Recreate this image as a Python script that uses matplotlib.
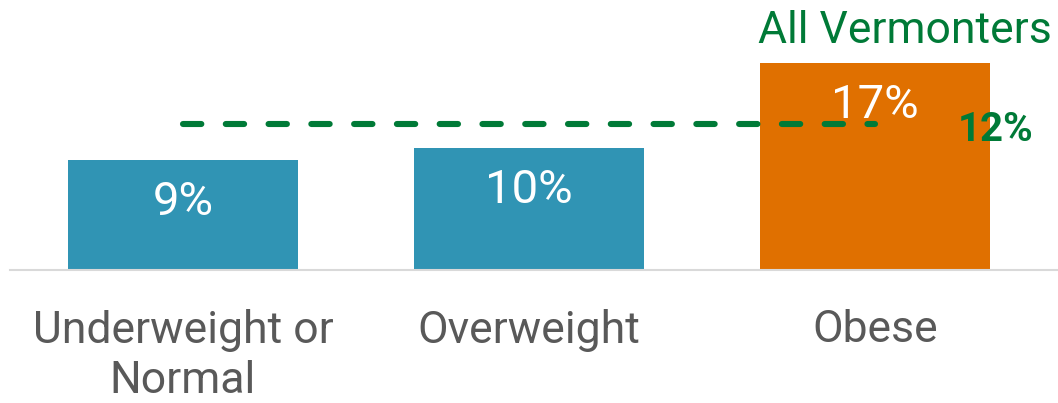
import matplotlib
matplotlib.use('Agg')
import matplotlib.pyplot as plt

# Datos
categorias = ['Underweight or\nNormal', 'Overweight', 'Obese']
valores = [9, 10, 17]
colores = ['#3094B4', '#3094B4', '#E07000']
promedio = 12  # All Vermonters

plt.rcParams['font.family'] = ['Roboto', 'DejaVu Sans']

fig = plt.figure(figsize=(10.58, 4.03), dpi=100)
ax = fig.add_axes([10 / 1058, 133 / 403, 1 - 10 / 1058, 270 / 403])

x = range(len(categorias))
barras = ax.bar(x, valores, width=0.665, color=colores, zorder=2)

# Etiquetas dentro de las barras
for xi, v in zip(x, valores):
    ax.annotate(f'{v}%', (xi, v), xytext=(0, -42), textcoords='offset pixels',
                ha='center', va='center', color='white', fontsize=34, zorder=4)

# Linea punteada del promedio
ax.hlines(promedio, 0, 2.0, colors='#007A37', linestyles=(0, (3.0, 4.0)),
          linewidth=4.4, capstyle='round', zorder=3)
ax.annotate(f'{promedio}%', (2.0, promedio), xytext=(83, -6), textcoords='offset pixels',
            ha='left', va='center', color='#007A37', fontsize=29, fontweight='bold')
ax.text(1052 / 1058, 1 - 10 / 403, 'All Vermonters', transform=fig.transFigure,
        ha='right', va='top', color='#007A37', fontsize=32)

ax.set_xlim(-0.5, 2.529)
ax.set_ylim(0, 22.13)
ax.set_xticks(list(x))
ax.set_xticklabels(categorias, fontsize=32, color='#595959', linespacing=1.25)
ax.tick_params(axis='x', length=0, pad=28)
ax.set_yticks([])
for lado in ['top', 'right', 'left']:
    ax.spines[lado].set_visible(False)
ax.spines['bottom'].set_color('#D9D9D9')
ax.spines['bottom'].set_linewidth(1.5)

fig.savefig('out.png', dpi=100)
